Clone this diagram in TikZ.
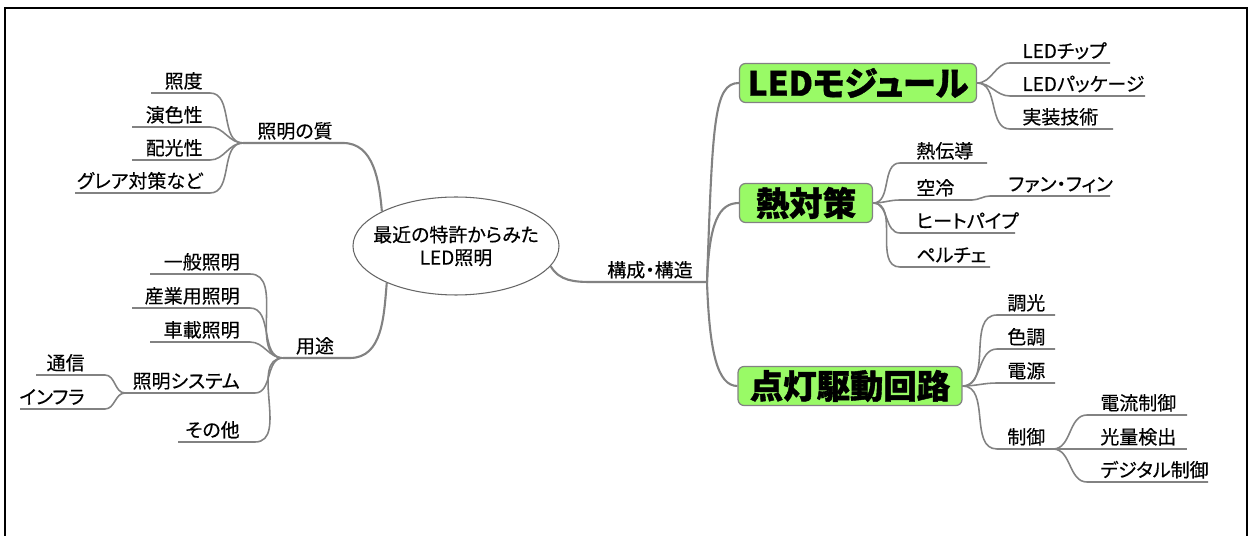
\documentclass[tikz,border=0pt]{standalone}
\usepackage{fontspec}
\setmainfont[RawFeature=+palt, FakeBold=0.35, BoldFeatures={FakeBold=1.2}]{Noto Sans CJK JP}
\usepackage{xcolor}
\usetikzlibrary{shapes.geometric,positioning}

\definecolor{boxgreen}{RGB}{153,250,102}
\definecolor{linegray}{RGB}{130,130,130}

\begin{document}
\begin{tikzpicture}[
    x=0.02cm, y=-0.02cm,
    font=\fontsize{10.8}{13}\selectfont,
    root/.style={ellipse, draw=black!60, line width=0.6pt, minimum width=3.92cm, minimum height=1.96cm, align=center, inner xsep=-0.2cm, inner ysep=0pt},
    topic/.style={rectangle, rounded corners=0.12cm, draw=linegray, fill=boxgreen, line width=0.7pt, minimum height=0.78cm, inner sep=0pt, font=\fontsize{19}{20}\selectfont\bfseries},
    lbl/.style={inner sep=0pt},
    link/.style={draw=linegray, line width=0.9pt},
    mainlink/.style={draw=linegray, line width=1.2pt}
]
    \useasboundingbox (0,0) rectangle (1250,536);
    % Frame
    \draw[line width=1.2pt] (5,536) -- (5,8) -- (1247,8) -- (1247,536);

    % Central topic
    \node[root] (root) at (456,246) {最近の特許からみた\\LED照明};

    % Quality of lighting
    \coordinate (qL) at (243,143);
    \coordinate (qR) at (343,143);
    \node[lbl, anchor=base] (q) at (295,138) {照明の質};
    \draw[mainlink] (root.155) to[out=95,in=0] (qR) -- (qL);
    \foreach \name/\txt/\xl/\yy in {q1/照度/151/93, q2/演色性/132/127, q3/配光性/132/160, q4/グレア対策など/75/193} {
        \coordinate (\name-r) at (210,\yy);
        \coordinate (\name-l) at (\xl,\yy);
        \node[lbl, anchor=base east] (\name) at (203,\yy-5) {\txt};
        \draw[link] (qL) to[out=180,in=0] (\name-r) -- (\name-l);
    }

    % Applications
    \coordinate (uL) at (283,358);
    \coordinate (uR) at (350,358);
    \node[lbl, anchor=base] (u) at (315,353) {用途};
    \draw[mainlink] (root.208) to[out=-95,in=0] (uR) -- (uL);
    \foreach \name/\txt/\xl/\xr/\yy in {u1/一般照明/150/250/274, u2/産業用照明/132/250/308, u3/車載照明/150/250/342, u4/照明システム/125/255/393, u5/その他/178/255/442} {
        \coordinate (\name-r) at (\xr,\yy);
        \coordinate (\name-l) at (\xl,\yy);
        \node[lbl, anchor=base east] (\name) at (240,\yy-5) {\txt};
        \draw[link] (uL) to[out=180,in=0] (\name-r) -- (\name-l);
    }
    \foreach \name/\txt/\xl/\yy in {s1/通信/36/375, s2/インフラ/20/409} {
        \coordinate (\name-r) at (105,\yy);
        \coordinate (\name-l) at (\xl,\yy);
        \node[lbl, anchor=base east] (\name) at (85,\yy-5) {\txt};
        \draw[link] (u4-l) to[out=180,in=0] (\name-r) -- (\name-l);
    }

    % Structure
    \coordinate (kL) at (592,282);
    \coordinate (kR) at (707,282);
    \node[lbl, anchor=base] (k) at (650,277) {構成・構造};
    \draw[mainlink] (root.-12) to[out=-60,in=180] (kL) -- (kR);

    \node[topic, minimum width=4.74cm] (led) at (858,83) {LEDモジュール};
    \node[topic, minimum width=2.66cm] (heat) at (806,203) {熱対策};
    \node[topic, minimum width=4.48cm] (drive) at (850,386) {点灯駆動回路};
    \draw[mainlink] (kR) to[out=88,in=180,out distance=3.2cm,in distance=0.5cm] (led.west);
    \draw[mainlink] (kR) to[out=88,in=180,out distance=1.2cm,in distance=0.4cm] (heat.west);
    \draw[mainlink] (kR) to[out=-88,in=180,out distance=1.4cm,in distance=0.4cm] (drive.west);

    % LED module
    \foreach \name/\txt/\xr/\yy in {m1/LEDチップ/1110/63, m2/LEDパッケージ/1145/96, m3/実装技術/1113/129} {
        \coordinate (\name-l) at (1010,\yy);
        \coordinate (\name-r) at (\xr,\yy);
        \node[lbl, anchor=base west] (\name) at (1022,\yy-5) {\txt};
        \draw[link] (led.east) to[out=0,in=180] (\name-l) -- (\name-r);
    }

    % Heat
    \foreach \name/\txt/\xr/\yy in {h1/熱伝導/987/163, h2/空冷/972/200, h3/ヒートパイプ/1015/233, h4/ペルチェ/990/267} {
        \coordinate (\name-l) at (900,\yy);
        \coordinate (\name-r) at (\xr,\yy);
        \node[lbl, anchor=base west] (\name) at (916,\yy-5) {\txt};
        \draw[link] (heat.east) to[out=0,in=180] (\name-l) -- (\name-r);
    }
    \coordinate (f1-l) at (990,196);
    \coordinate (f1-r) at (1110,196);
    \node[lbl, anchor=base west] (f1) at (1008,191) {ファン・フィン};
    \draw[link] (h2-r) to[out=0,in=180] (f1-l) -- (f1-r);

    % Drive circuit
    \foreach \name/\txt/\xr/\yy in {d1/調光/1055/315, d2/色調/1055/349, d3/電源/1055/383, d4/制御/1053/449} {
        \coordinate (\name-l) at (997,\yy);
        \coordinate (\name-r) at (\xr,\yy);
        \node[lbl, anchor=base west] (\name) at (1007,\yy-5) {\txt};
        \draw[link] (drive.east) to[out=0,in=180] (\name-l) -- (\name-r);
    }
    \foreach \name/\txt/\xr/\yy in {c1/電流制御/1187/415, c2/光量検出/1187/449, c3/デジタル制御/1208/482} {
        \coordinate (\name-l) at (1087,\yy);
        \coordinate (\name-r) at (\xr,\yy);
        \node[lbl, anchor=base west] (\name) at (1100,\yy-5) {\txt};
        \draw[link] (d4-r) to[out=0,in=180] (\name-l) -- (\name-r);
    }
\end{tikzpicture}
\end{document}
